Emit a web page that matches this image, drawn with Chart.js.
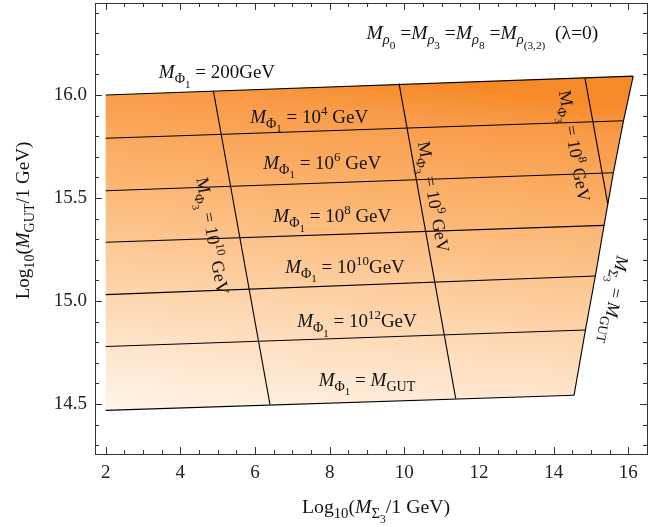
<!DOCTYPE html>
<html>
<head>
<meta charset="utf-8">
<script src="https://cdn.jsdelivr.net/npm/chart.js@4.4.1/dist/chart.umd.min.js"></script>
<style>
  html, body { margin: 0; padding: 0; background: #fff; }
  canvas { display: block; }
</style>
</head>
<body>
<canvas id="myChart" width="652" height="527"></canvas>
<script>
  // M_Phi1 = const contours: from x = 2 to the M_Sigma3 = M_GUT edge
  const phi1Labels = ['200GeV', '10^4', '10^6', '10^8', '10^10', '10^12', 'M_GUT'];
  const phi1LeftX = 2;
  const phi1LeftY = [16.0, 15.79, 15.535, 15.285, 15.031, 14.779, 14.469];
  const phi1RightX = [16.13, 15.87, 15.60, 15.35, 15.116, 14.85, 14.545];
  const phi1RightY = [16.092, 15.875, 15.623, 15.367, 15.121, 14.859, 14.542];

  // M_Phi3 = const contours
  const phi3Labels = ['10^10', '10^9', '10^8'];
  const phi3TopX = [4.883, 9.857, 14.84];
  const phi3TopY = [16.021, 16.057, 16.081];
  const phi3BotX = [6.401, 11.376, 15.45];
  const phi3BotY = [14.497, 14.526, 15.47];

  // axes
  const xTicks = [2, 4, 6, 8, 10, 12, 14, 16];
  const yTicks = [14.5, 15.0, 15.5, 16.0];
  const xMin = 1.713, xMax = 16.5;
  const yMin = 14.257, yMax = 16.447;

  const xMinor = [];
  for (let v = 2; v <= xMax + 1e-9; v += 0.5) xMinor.push(v);
  const yMinor = [];
  for (let i = 0; ; i++) {
    const v = Math.round((14.3 + i * 0.1) * 10) / 10;
    if (v > yMax) break;
    yMinor.push(v);
  }
  const isMajor = (list, v) => list.some(t => Math.abs(t - v) < 1e-6);

  // allowed region (left edge x = 2, bottom / top = M_Phi1 contours, right = M_Sigma3 = M_GUT)
  const last = phi1LeftY.length - 1;
  const region = [{x: phi1LeftX, y: phi1LeftY[0]}, {x: phi1LeftX, y: phi1LeftY[last]}];
  for (let i = last; i >= 0; i--) region.push({x: phi1RightX[i], y: phi1RightY[i]});

  const lineStyle = {borderColor: '#000', borderWidth: 1.1, pointRadius: 0, fill: false, order: 0};
  const datasets = [{
    data: region,
    order: 10,
    borderWidth: 0,
    pointRadius: 0,
    fill: 'shape',
    backgroundColor: (c) => {
      const {chart} = c;
      if (!chart.chartArea) return '#fbb776';
      const sx = chart.scales.x, sy = chart.scales.y;
      const x0 = sx.getPixelForValue(2), y0 = sy.getPixelForValue(14.45);
      const y1 = sy.getPixelForValue(16.2);
      const h = y0 - y1;
      const g = chart.ctx.createLinearGradient(x0, y0, x0 + 0.1 * h, y1);
      g.addColorStop(0, '#fff6ec');
      g.addColorStop(0.2, '#fee3c8');
      g.addColorStop(0.45, '#fdca98');
      g.addColorStop(0.7, '#fbb068');
      g.addColorStop(0.9, '#f99b48');
      g.addColorStop(1, '#f78a28');
      return g;
    },
  }];
  phi1Labels.forEach((l, i) => datasets.push({
    ...lineStyle,
    data: [{x: phi1LeftX, y: phi1LeftY[i]}, {x: phi1RightX[i], y: phi1RightY[i]}],
  }));
  phi3Labels.forEach((l, i) => datasets.push({
    ...lineStyle,
    data: [{x: phi3TopX[i], y: phi3TopY[i]}, {x: phi3BotX[i], y: phi3BotY[i]}],
  }));
  datasets.push({...lineStyle, data: phi1RightX.map((x, i) => ({x, y: phi1RightY[i]}))});

  // rich text with sub/superscripts
  const LVL = {n: [1, 0], s: [0.74, 0.27], ss: [0.58, 0.5], p: [0.68, -0.42]};
  const FAM = '"Liberation Serif", "Times New Roman", serif';
  Chart.defaults.font.family = FAM;
  const segFont = (s, size) => (s.i ? 'italic ' : '') + (size * LVL[s.l || 'n'][0]).toFixed(1) + 'px ' + FAM;
  function drawRich(ctx, segs, x, y, deg, size) {
    ctx.save();
    ctx.translate(x, y);
    ctx.rotate(deg * Math.PI / 180);
    let w = 0;
    segs.forEach(s => { ctx.font = segFont(s, size); w += ctx.measureText(s.t).width; });
    let cx = -w / 2;
    ctx.textAlign = 'left';
    ctx.textBaseline = 'alphabetic';
    ctx.fillStyle = '#111';
    segs.forEach(s => {
      ctx.font = segFont(s, size);
      ctx.fillText(s.t, cx, 0.3 * size + LVL[s.l || 'n'][1] * size);
      cx += ctx.measureText(s.t).width;
    });
    ctx.restore();
  }
  const MPhi1 = [{t: 'M', i: 1}, {t: 'Φ', l: 's'}, {t: '1', l: 'ss'}];
  const MPhi3 = [{t: 'M'}, {t: 'Φ', l: 's'}, {t: '3', l: 'ss'}];
  const pow = (e, sp) => [{t: ' = 10'}, {t: e, l: 'p'}, {t: sp + 'GeV'}];
  const Mrho = (sub) => [{t: 'M', i: 1}, {t: 'ρ', l: 's', i: 1}, {t: sub, l: 'ss'}];

  const notes = [
    {x: 4.98, y: 16.11, a: 0, s: 19, segs: [...MPhi1, {t: ' = 200GeV'}]},
    {x: 7.45, y: 15.893, a: 0, s: 19, segs: [...MPhi1, ...pow('4', ' ')]},
    {x: 7.80, y: 15.67, a: 0, s: 19, segs: [...MPhi1, ...pow('6', ' ')]},
    {x: 8.07, y: 15.41, a: 0, s: 19, segs: [...MPhi1, ...pow('8', ' ')]},
    {x: 8.41, y: 15.165, a: 0, s: 19, segs: [...MPhi1, ...pow('10', '')]},
    {x: 8.73, y: 14.90, a: 0, s: 19, segs: [...MPhi1, ...pow('12', '')]},
    {x: 9.0, y: 14.617, a: 0, s: 19, segs: [...MPhi1, {t: ' = '}, {t: 'M', i: 1}, {t: 'GUT', l: 's'}]},
    {x: 4.85, y: 15.316, a: 79.8, s: 18, segs: [...MPhi3, ...pow('10', ' ')]},
    {x: 10.77, y: 15.505, a: 79.8, s: 18, segs: [...MPhi3, ...pow('9', ' ')]},
    {x: 14.545, y: 15.752, a: 79.9, s: 18, segs: [...MPhi3, ...pow('8', ' ')]},
    {x: 15.62, y: 15.005, a: 100.5, s: 18, segs: [{t: 'M', i: 1}, {t: 'Σ', l: 's'}, {t: '3', l: 'ss'}, {t: ' = '}, {t: 'M', i: 1}, {t: 'GUT', l: 's'}]},
    {x: 12.09, y: 16.30, a: 0, s: 19.5, segs: [...Mrho('0'), {t: ' ='}, ...Mrho('3'), {t: ' ='}, ...Mrho('8'), {t: ' ='}, ...Mrho('(3,2)'), {t: '  (λ=0)'}]},
  ];

  const annotations = {
    id: 'annotations',
    afterDatasetsDraw(chart) {
      const {ctx, scales} = chart;
      notes.forEach(n => drawRich(ctx, n.segs, scales.x.getPixelForValue(n.x), scales.y.getPixelForValue(n.y), n.a, n.s));
      const a = chart.chartArea;
      drawRich(ctx, [{t: 'Log'}, {t: '10', l: 's'}, {t: '('}, {t: 'M', i: 1}, {t: 'Σ', l: 's'}, {t: '3', l: 'ss'}, {t: '/1 GeV)'}],
        (a.left + a.right) / 2 + 5, 507, 0, 19.8);
      drawRich(ctx, [{t: 'Log'}, {t: '10', l: 's'}, {t: '('}, {t: 'M', i: 1}, {t: 'GUT', l: 's'}, {t: '/1 GeV)'}],
        23, (a.top + a.bottom) / 2 - 8, -90, 19);
    },
    afterDraw(chart) {
      // inward frame ticks on all four sides
      const {ctx, chartArea: a, scales} = chart;
      ctx.save();
      ctx.strokeStyle = '#333';
      ctx.lineWidth = 1;
      ctx.beginPath();
      xMinor.forEach(v => {
        const px = Math.round(scales.x.getPixelForValue(v)) + 0.5;
        const len = isMajor(xTicks, v) ? 7 : 4;
        ctx.moveTo(px, a.bottom); ctx.lineTo(px, a.bottom - len);
        ctx.moveTo(px, a.top); ctx.lineTo(px, a.top + len);
      });
      yMinor.forEach(v => {
        const py = Math.round(scales.y.getPixelForValue(v)) + 0.5;
        const len = isMajor(yTicks, v) ? 7 : 4;
        ctx.moveTo(a.left, py); ctx.lineTo(a.left + len, py);
        ctx.moveTo(a.right, py); ctx.lineTo(a.right - len, py);
      });
      ctx.stroke();
      ctx.restore();
    },
  };

  const tickFont = {family: FAM, size: 19};
  const border = {display: true, color: '#333', width: 1};
  const noPad = (s) => { s.paddingLeft = 0; s.paddingRight = 0; s.paddingTop = 0; s.paddingBottom = 0; };
  const config = {
    type: 'line',
    data: {datasets},
    options: {
      responsive: false,
      animation: false,
      layout: {padding: 0},
      plugins: {legend: {display: false}, tooltip: {enabled: false}},
      scales: {
        x: {
          type: 'linear', position: 'bottom', min: xMin, max: xMax,
          grid: {display: false, drawTicks: false}, border,
          afterBuildTicks: (s) => { s.ticks = xMinor.map(v => ({value: v})); },
          afterFit: (s) => { s.height = 73; noPad(s); },
          ticks: {
            autoSkip: false, maxRotation: 0, padding: 8, color: '#222', font: tickFont,
            callback: (v) => isMajor(xTicks, v) ? String(v) : '',
          },
        },
        x2: {
          type: 'linear', position: 'top', min: xMin, max: xMax,
          grid: {display: false, drawTicks: false}, border,
          ticks: {display: false},
          afterFit: (s) => { s.height = 3; noPad(s); },
        },
        y: {
          type: 'linear', position: 'left', min: yMin, max: yMax,
          grid: {display: false, drawTicks: false}, border,
          afterBuildTicks: (s) => { s.ticks = yMinor.map(v => ({value: v})); },
          afterFit: (s) => { s.width = 95; noPad(s); },
          ticks: {
            autoSkip: false, padding: 8, color: '#222', font: tickFont,
            callback: (v) => isMajor(yTicks, v) ? v.toFixed(1) : '',
          },
        },
        y2: {
          type: 'linear', position: 'right', min: yMin, max: yMax,
          grid: {display: false, drawTicks: false}, border,
          ticks: {display: false},
          afterFit: (s) => { s.width = 5; noPad(s); },
        },
      },
    },
    plugins: [annotations],
  };

  var myChart = new Chart(document.getElementById('myChart'), config);
</script>
</body>
</html>
